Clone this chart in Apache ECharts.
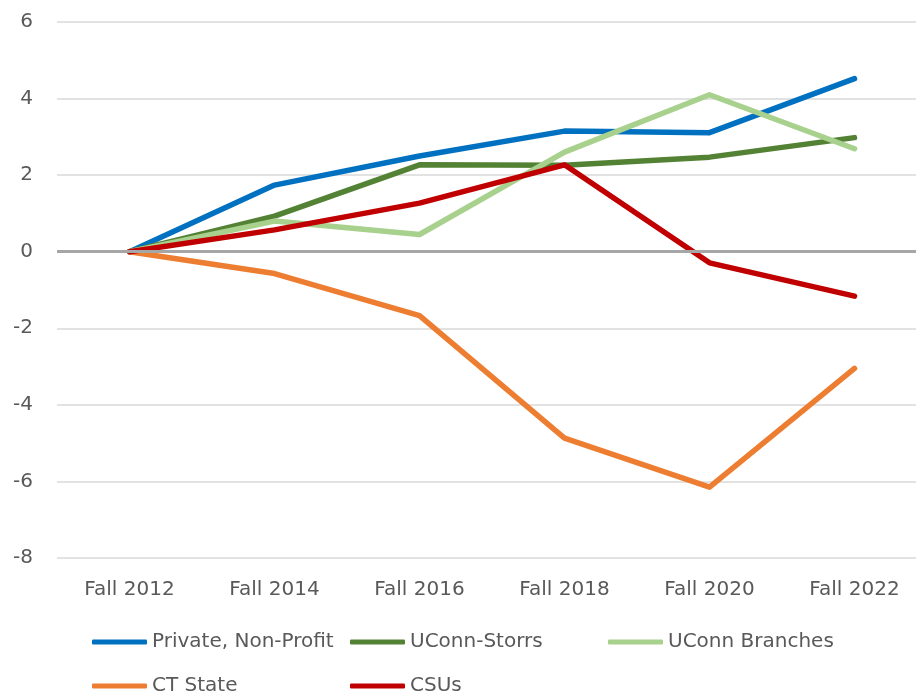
<!DOCTYPE html>
<html>
<head>
<meta charset="utf-8">
<script src="https://cdn.jsdelivr.net/npm/echarts@6/dist/echarts.min.js"></script>
<style>
    html, body { margin: 0; padding: 0; background: #fff; }
    #chart { width: 916px; height: 696px; }
</style>
</head>
<body>
<div id="chart"></div>
<script>
    var categories = ['Fall 2012', 'Fall 2014', 'Fall 2016', 'Fall 2018', 'Fall 2020', 'Fall 2022']
    var yTicks = [-8, -6, -4, -2, 0, 2, 4, 6]

    var privateNonProfit = [0, 1.74, 2.5, 3.15, 3.11, 4.52]
    var uconnStorrs = [0, 0.93, 2.27, 2.26, 2.47, 2.98]
    var uconnBranches = [0, 0.8, 0.45, 2.6, 4.1, 2.69]
    var ctState = [0, -0.57, -1.67, -4.87, -6.15, -3.05]
    var csus = [0, 0.57, 1.27, 2.27, -0.29, -1.16]

    var textColor = '#595959'
    var fontFamily = 'DejaVu Sans'

    var chart = echarts.init(document.getElementById('chart'))

    function line(name, data, color) {
        return {
            name: name,
            type: 'line',
            data: data,
            symbol: 'none',
            clip: false,
            lineStyle: { color: color, width: 5.5, cap: 'round', join: 'round' },
            itemStyle: { color: color }
        }
    }

    var series = [
        line('Private, Non-Profit', privateNonProfit, '#0070C0'),
        line('UConn-Storrs', uconnStorrs, '#548235'),
        line('UConn Branches', uconnBranches, '#A9D18E'),
        line('CT State', ctState, '#ED7D31'),
        line('CSUs', csus, '#C00000')
    ]
    // darker zero line
    series[0].markLine = {
        silent: true,
        symbol: 'none',
        label: { show: false },
        lineStyle: { color: '#a6a6a6', width: 3, type: 'solid' },
        data: [{ yAxis: 0 }]
    }

    var legendCommon = {
        orient: 'horizontal',
        left: 92,
        padding: 0,
        itemWidth: 55,
        itemHeight: 5,
        itemGap: 0,
        icon: 'roundRect',
        textStyle: { color: textColor, fontSize: 20, fontFamily: fontFamily, width: 198, lineHeight: 22 }
    }

    var option = {
        animation: false,
        backgroundColor: '#fff',
        grid: { left: 57, right: -11, top: 22, bottom: 138, containLabel: false, outerBoundsMode: 'none' },
        legend: [
            Object.assign({}, legendCommon, { top: 631, data: ['Private, Non-Profit', 'UConn-Storrs', 'UConn Branches'] }),
            Object.assign({}, legendCommon, { top: 675, data: ['CT State', 'CSUs'] })
        ],
        xAxis: {
            type: 'category',
            data: categories,
            boundaryGap: true,
            axisLine: { show: false },
            axisTick: { show: false },
            axisLabel: { color: textColor, fontSize: 20, fontFamily: fontFamily, margin: 22 }
        },
        yAxis: {
            type: 'value',
            min: yTicks[0],
            max: yTicks[yTicks.length - 1],
            interval: 2,
            axisLine: { show: false },
            axisTick: { show: false },
            axisLabel: { color: textColor, fontSize: 20, fontFamily: fontFamily, margin: 24 },
            splitLine: { lineStyle: { color: '#d9d9d9', width: 1.5 } }
        },
        series: series
    }
    chart.setOption(option)
</script>
</body>
</html>
